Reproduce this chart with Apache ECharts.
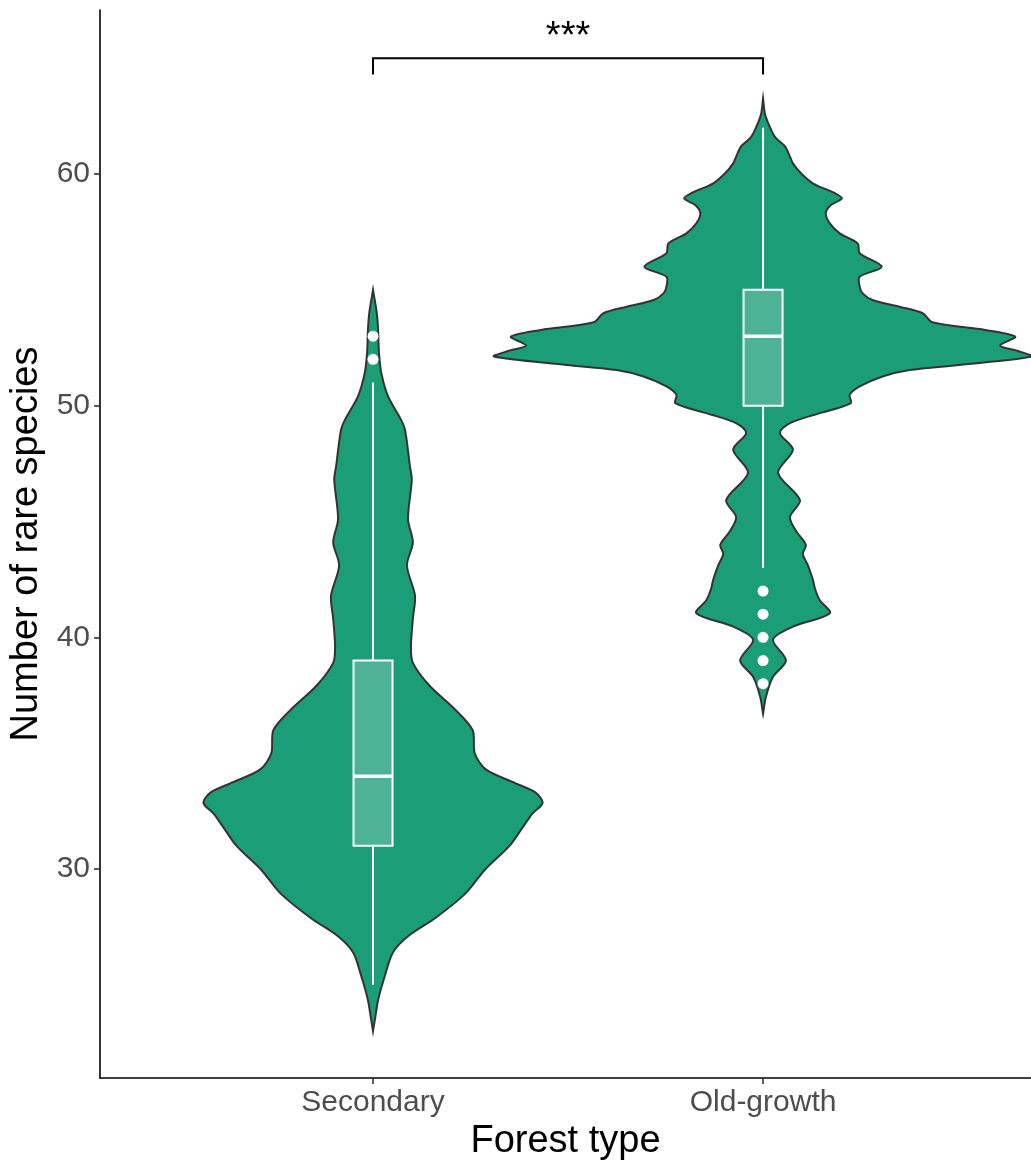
<!DOCTYPE html>
<html>
<head>
<meta charset="utf-8">
<script src="https://cdn.jsdelivr.net/npm/echarts@6/dist/echarts.min.js"></script>
<style>
  html, body { margin: 0; padding: 0; background: #ffffff; }
  #chart { width: 1031px; height: 1162px; }
</style>
</head>
<body>
<div id="chart"></div>
<script>
// Categories and axis ticks
const forestTypes = ['Secondary', 'Old-growth'];
const yTicks = [30, 40, 50, 60];

// Kernel density profiles: [number of rare species, relative density]
const secondaryDensity = [
  [23.0, 0], [23.5, 0.007], [24.35, 0.019], [25.35, 0.043], [26.4, 0.074],
  [27.1, 0.13], [27.9, 0.233], [28.95, 0.344], [29.96, 0.415], [31.0, 0.507],
  [31.8, 0.556], [32.4, 0.593], [32.85, 0.63], [33.3, 0.604], [33.7, 0.53],
  [34.3, 0.419], [35.0, 0.378], [36.0, 0.37], [36.9, 0.304], [37.9, 0.211],
  [38.9, 0.148], [39.6, 0.141], [40.8, 0.148], [41.8, 0.156], [43.1, 0.126],
  [44.1, 0.148], [45.1, 0.13], [46.8, 0.144], [47.4, 0.137], [48.95, 0.119],
  [49.4, 0.104], [50.4, 0.056], [51.4, 0.031], [52.3, 0.022], [53.27, 0.019],
  [54.0, 0.014], [55.0, 0]
];
const oldGrowthDensity = [
  [36.7, 0], [37.45, 0.011], [38.3, 0.037], [39.0, 0.085], [39.9, 0.037],
  [40.46, 0.111], [41.04, 0.248], [41.6, 0.211], [42.1, 0.193], [42.5, 0.185],
  [43.1, 0.167], [43.6, 0.148], [44.0, 0.159], [44.6, 0.122], [45.2, 0.1],
  [45.93, 0.137], [47.1, 0.056], [48.1, 0.111], [48.82, 0.063], [49.25, 0.1],
  [49.68, 0.211], [50.11, 0.326], [50.47, 0.322], [50.83, 0.359], [51.26, 0.444],
  [51.54, 0.544], [51.76, 0.73], [52.12, 1.0], [52.35, 0.95], [52.6, 0.881],
  [52.98, 0.937], [53.27, 0.826], [53.6, 0.63], [53.99, 0.593], [54.27, 0.507],
  [54.56, 0.407], [54.85, 0.37], [55.14, 0.359], [55.57, 0.359], [56.0, 0.441],
  [56.58, 0.359], [57.0, 0.352], [57.44, 0.285], [57.87, 0.248], [58.3, 0.233],
  [58.66, 0.252], [58.95, 0.293], [59.17, 0.267], [59.6, 0.185], [60.03, 0.141],
  [60.46, 0.111], [60.75, 0.1], [61.2, 0.081], [61.6, 0.044], [62.2, 0.019],
  [62.6, 0.007], [63.27, 0]
];

// Box statistics: [lower whisker, Q1, median, Q3, upper whisker]
const secondaryBox = [25, 31, 34, 39, 51];
const oldGrowthBox = [43, 50, 53, 55, 62];
const secondaryOutliers = [52, 53];
const oldGrowthOutliers = [38, 39, 40, 41, 42];

// Significance bracket between the two forest types
const bracketPair = [1, 2];
const bracketLevel = 65;
const bracketTipLevel = 64.3;
const bracketLabelLevel = 65.9;
const bracketLabel = '***';

// Drawing constants
const VIOLIN_HALF = 0.69;   // half-width (x units) at the highest density
const BOX_HALF = 0.05;      // half-width of the boxes (x units)
const FONT = "'Liberation Sans', Arial, sans-serif";
const VIOLIN_FILL = '#1B9E77';

const profiles = [secondaryDensity, oldGrowthDensity];
const boxes = [secondaryBox, oldGrowthBox];
const outlierPoints = []
  .concat(secondaryOutliers.map(v => [1, v]))
  .concat(oldGrowthOutliers.map(v => [2, v]));

const chart = echarts.init(document.getElementById('chart'), null, { renderer: 'canvas' });

chart.setOption({
  animation: false,
  backgroundColor: '#ffffff',
  grid: { left: 100, right: 0, top: 10, bottom: 84, containLabel: false, outerBoundsMode: 'none' },
  xAxis: {
    type: 'value',
    min: 0.3,
    max: 2.687,
    splitLine: { show: false },
    axisLine: { show: true, onZero: false, lineStyle: { color: '#000000', width: 1.6 } },
    axisTick: { show: true, customValues: [1, 2], length: 6, lineStyle: { color: '#333333', width: 1.6 } },
    axisLabel: {
      customValues: [1, 2],
      formatter: v => forestTypes[Math.round(v) - 1],
      fontSize: 30, color: '#4D4D4D', fontFamily: FONT, margin: 10
    },
    name: 'Forest type',
    nameLocation: 'middle',
    nameGap: 40,
    nameTextStyle: { fontSize: 38, color: '#000000', fontFamily: FONT }
  },
  yAxis: {
    type: 'value',
    min: 20.98,
    max: 67.08,
    splitLine: { show: false },
    axisLine: { show: true, onZero: false, lineStyle: { color: '#000000', width: 1.6 } },
    axisTick: { show: true, customValues: yTicks, length: 6, lineStyle: { color: '#333333', width: 1.6 } },
    axisLabel: {
      customValues: yTicks,
      fontSize: 30, color: '#4D4D4D', fontFamily: FONT, margin: 10
    },
    name: 'Number of rare species',
    nameLocation: 'middle',
    nameGap: 48,
    nameTextStyle: { fontSize: 38, color: '#000000', fontFamily: FONT }
  },
  series: [
    {
      // violins
      type: 'custom',
      clip: false,
      data: [[1], [2]],
      encode: { x: 0 },
      renderItem: function (params, api) {
        const pos = api.value(0);
        const prof = profiles[params.dataIndex];
        const right = prof.map(p => api.coord([pos + p[1] * VIOLIN_HALF, p[0]]));
        const left = prof.slice().reverse().map(p => api.coord([pos - p[1] * VIOLIN_HALF, p[0]]));
        return {
          type: 'polygon',
          shape: { points: right.concat(left), smooth: 0.3 },
          style: { fill: VIOLIN_FILL, stroke: '#333333', lineWidth: 2 }
        };
      }
    },
    {
      // boxes and whiskers
      type: 'custom',
      clip: false,
      data: boxes.map((b, i) => [i + 1].concat(b)),
      encode: { x: 0, y: [1, 2, 3, 4, 5] },
      renderItem: function (params, api) {
        const x = api.value(0);
        const lo = api.coord([x, api.value(1)]);
        const q1 = api.coord([x - BOX_HALF, api.value(2)]);
        const med = api.value(3);
        const q3 = api.coord([x + BOX_HALF, api.value(4)]);
        const hi = api.coord([x, api.value(5)]);
        const ml = api.coord([x - BOX_HALF, med]);
        const mr = api.coord([x + BOX_HALF, med]);
        const white = { stroke: '#ffffff', lineWidth: 2, fill: null };
        return {
          type: 'group',
          children: [
            { type: 'line', shape: { x1: lo[0], y1: lo[1], x2: lo[0], y2: q1[1] }, style: white },
            { type: 'line', shape: { x1: hi[0], y1: q3[1], x2: hi[0], y2: hi[1] }, style: white },
            {
              type: 'rect',
              shape: { x: q1[0], y: q3[1], width: q3[0] - q1[0], height: q1[1] - q3[1] },
              style: { fill: 'rgba(255,255,255,0.22)', stroke: '#ffffff', lineWidth: 2 }
            },
            { type: 'line', shape: { x1: ml[0], y1: ml[1], x2: mr[0], y2: mr[1] }, style: { stroke: '#ffffff', lineWidth: 3.5 } }
          ]
        };
      }
    },
    {
      // outliers
      type: 'scatter',
      data: outlierPoints,
      symbol: 'circle',
      symbolSize: 11,
      itemStyle: { color: '#ffffff', borderWidth: 0, opacity: 1 },
      z: 5
    },
    {
      // significance bracket
      type: 'custom',
      clip: false,
      data: [[bracketPair[0], bracketPair[1], bracketLevel, bracketTipLevel, bracketLabelLevel]],
      encode: { x: [0, 1], y: [2, 3, 4] },
      renderItem: function (params, api) {
        const a = api.coord([api.value(0), api.value(3)]);
        const b = api.coord([api.value(0), api.value(2)]);
        const c = api.coord([api.value(1), api.value(2)]);
        const d = api.coord([api.value(1), api.value(3)]);
        const t = api.coord([(api.value(0) + api.value(1)) / 2, api.value(4)]);
        return {
          type: 'group',
          children: [
            {
              type: 'polyline',
              shape: { points: [a, b, c, d] },
              style: { stroke: '#000000', lineWidth: 2, fill: null }
            },
            {
              type: 'text',
              x: t[0], y: t[1],
              style: {
                text: bracketLabel, fontSize: 38, fontFamily: FONT, fill: '#000000',
                align: 'center', verticalAlign: 'middle'
              }
            }
          ]
        };
      }
    }
  ]
});
</script>
</body>
</html>
